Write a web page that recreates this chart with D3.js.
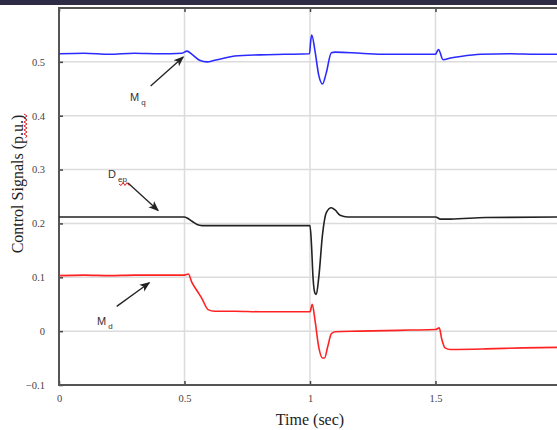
<!DOCTYPE html>
<html>
<head>
<meta charset="utf-8">
<script src="https://cdn.jsdelivr.net/npm/d3@7"></script>
<style>
  html, body { margin: 0; padding: 0; background: #fff; }
  svg { display: block; }
  .tick text { font-family: "Liberation Serif", "DejaVu Serif", serif; font-size: 10.5px; fill: #4a4040; }
</style>
</head>
<body>
<div id="chart"></div>
<script>
// Signals (time in s, value in p.u.)
const mqTime = [0, 0.1, 0.2, 0.3, 0.4, 0.49, 0.51, 0.53, 0.56, 0.59, 0.62, 0.66, 0.7, 0.8, 0.9, 0.998, 1.003, 1.007, 1.02, 1.035, 1.05, 1.065, 1.085, 1.1, 1.2, 1.3, 1.4, 1.5, 1.505, 1.512, 1.53, 1.56, 1.6, 1.68, 1.8, 1.9, 2.0];
const mqVals = [0.515, 0.516, 0.514, 0.516, 0.515, 0.516, 0.52, 0.514, 0.503, 0.500, 0.503, 0.507, 0.511, 0.513, 0.514, 0.515, 0.540, 0.550, 0.52, 0.475, 0.459, 0.48, 0.517, 0.518, 0.516, 0.514, 0.514, 0.514, 0.518, 0.523, 0.504, 0.507, 0.510, 0.514, 0.515, 0.514, 0.514];

const depTime = [0, 0.5, 0.51, 0.53, 0.55, 0.57, 0.6, 0.8, 0.99, 1.0, 1.006, 1.012, 1.02, 1.025, 1.035, 1.05, 1.065, 1.085, 1.1, 1.12, 1.15, 1.3, 1.5, 1.52, 1.56, 1.7, 2.0];
const depVals = [0.212, 0.212, 0.210, 0.204, 0.198, 0.196, 0.196, 0.196, 0.196, 0.196, 0.16, 0.10, 0.07, 0.068, 0.10, 0.18, 0.22, 0.229, 0.225, 0.215, 0.212, 0.212, 0.212, 0.208, 0.208, 0.211, 0.212];

const mdTime = [0, 0.1, 0.2, 0.3, 0.4, 0.5, 0.515, 0.53, 0.55, 0.57, 0.594, 0.62, 0.7, 0.8, 0.9, 1.0, 1.009, 1.02, 1.035, 1.05, 1.058, 1.07, 1.085, 1.1, 1.2, 1.3, 1.4, 1.5, 1.515, 1.525, 1.538, 1.56, 1.7, 1.85, 2.0];
const mdVals = [0.103, 0.104, 0.103, 0.104, 0.104, 0.104, 0.106, 0.09, 0.075, 0.06, 0.040, 0.037, 0.037, 0.036, 0.036, 0.036, 0.05, 0.02, -0.03, -0.05, -0.05, -0.03, -0.005, -0.001, 0.0, 0.001, 0.002, 0.003, 0.006, -0.015, -0.031, -0.034, -0.033, -0.031, -0.030];

const xTicks = [0, 0.5, 1, 1.5, 2];
const yTicks = [-0.1, 0, 0.1, 0.2, 0.3, 0.4, 0.5];

const width = 557, height = 430;
const x = d3.scaleLinear().domain([0, 2]).range([59, 561]);
const y = d3.scaleLinear().domain([-0.1, 0.6]).range([385, 8]);

const svg = d3.select('#chart').append('svg')
    .attr('width', width)
    .attr('height', height);

// dark strip at the very top
svg.append('rect')
    .attr('x', 0).attr('y', 0)
    .attr('width', width).attr('height', 5)
    .attr('fill', '#2d2b45');

// grid
svg.append('g').selectAll('line')
    .data(yTicks.filter(d => d > -0.1))
    .enter().append('line')
    .attr('x1', x(0)).attr('x2', x(2))
    .attr('y1', d => y(d)).attr('y2', d => y(d))
    .attr('stroke', '#dcdcdc').attr('stroke-width', 1.5);
svg.append('g').selectAll('line')
    .data(xTicks.filter(d => d > 0))
    .enter().append('line')
    .attr('x1', d => x(d)).attr('x2', d => x(d))
    .attr('y1', y(0.6)).attr('y2', y(-0.1))
    .attr('stroke', '#dcdcdc').attr('stroke-width', 1.5);

// axes
const yAxis = svg.append('g')
    .attr('transform', `translate(${x(0)},0)`)
    .call(d3.axisLeft(y).tickValues(yTicks).tickSize(-4).tickPadding(14)
      .tickFormat(d => d3.format('')(+d.toFixed(1))));
const xAxis = svg.append('g')
    .attr('transform', `translate(0,${y(-0.1)})`)
    .call(d3.axisBottom(x).tickValues(xTicks).tickSize(-4).tickPadding(10)
      .tickFormat(d => String(d)));
svg.append('g')
    .attr('transform', `translate(0,${y(0.6)})`)
    .call(d3.axisTop(x).tickValues(xTicks).tickSize(-4).tickFormat(''));
[yAxis, xAxis].forEach(g => {
  g.select('.domain').remove();
  g.selectAll('.tick line').attr('stroke', '#444').attr('stroke-width', 1.5);
});
svg.selectAll('.domain').remove();
svg.selectAll('.tick line').attr('stroke', '#444').attr('stroke-width', 1.5);

// frame
svg.append('path')
    .attr('d', `M${x(2)},${y(0.6)}H${x(0)}V${y(-0.1)}H${x(2)}`)
    .attr('fill', 'none').attr('stroke', '#555').attr('stroke-width', 2);

// series
const line = d3.line()
    .x(d => x(d[0]))
    .y(d => y(d[1]))
    .curve(d3.curveMonotoneX);

const series = [
  {t: mqTime, v: mqVals, color: '#2b2bff'},
  {t: depTime, v: depVals, color: '#222222'},
  {t: mdTime, v: mdVals, color: '#ff2222'}
];
svg.append('g').selectAll('path')
    .data(series)
    .enter().append('path')
    .attr('d', s => line(s.t.map((t, i) => [t, s.v[i]])))
    .attr('fill', 'none')
    .attr('stroke', s => s.color)
    .attr('stroke-width', 1.6);

// annotations
const defs = svg.append('defs');
defs.append('marker')
    .attr('id', 'arrow')
    .attr('viewBox', '0 0 10 10')
    .attr('refX', 9).attr('refY', 5)
    .attr('markerWidth', 8).attr('markerHeight', 8)
    .attr('orient', 'auto')
    .append('path')
    .attr('d', 'M0,1L10,5L0,9L2.5,5Z')
    .attr('fill', '#222');

const notes = [
  {name: 'M', sub: 'q', lx: 130, ly: 101, from: [0.365, 0.455], to: [0.495, 0.509]},
  {name: 'D', sub: 'ep', lx: 108, ly: 178, from: [0.275, 0.275], to: [0.395, 0.224]},
  {name: 'M', sub: 'd', lx: 97, ly: 325, from: [0.23, 0.046], to: [0.36, 0.09]}
];
notes.forEach(n => {
  svg.append('line')
      .attr('x1', x(n.from[0])).attr('y1', y(n.from[1]))
      .attr('x2', x(n.to[0])).attr('y2', y(n.to[1]))
      .attr('stroke', '#222').attr('stroke-width', 1.3)
      .attr('marker-end', 'url(#arrow)');
  const t = svg.append('text')
      .attr('x', n.lx).attr('y', n.ly)
      .attr('font-family', 'Liberation Sans, Arial, sans-serif')
      .attr('font-size', 11)
      .attr('fill', '#3a3030')
      .text(n.name);
  t.append('tspan')
      .attr('dx', 2).attr('dy', 4)
      .attr('font-size', 8)
      .text(n.sub);
});

// red spell-check squiggles
const squiggle = (x0, y0, len, vertical) => {
  let d = `M${x0},${y0}`;
  for (let i = 1; i <= len / 2; i++) {
    const o = (i % 2 ? 1.5 : -1.5);
    d += vertical ? `L${x0 + o},${y0 - i * 2}` : `L${x0 + i * 2},${y0 + o}`;
  }
  return d;
};
svg.append('path').attr('d', squiggle(119, 184, 10, false))
    .attr('fill', 'none').attr('stroke', '#e02020').attr('stroke-width', 1);
svg.append('path').attr('d', squiggle(25.5, 138, 24, true))
    .attr('fill', 'none').attr('stroke', '#e02020').attr('stroke-width', 1);

// axis titles
svg.append('text')
    .attr('transform', `translate(23,${184}) rotate(-90)`)
    .attr('text-anchor', 'middle')
    .attr('font-family', 'Liberation Serif, Times New Roman, serif')
    .attr('font-size', 16)
    .attr('fill', '#222')
    .text('Control Signals (p.u.)');
svg.append('text')
    .attr('x', 310).attr('y', 425)
    .attr('text-anchor', 'middle')
    .attr('font-family', 'Liberation Serif, Times New Roman, serif')
    .attr('font-size', 16)
    .attr('fill', '#222')
    .text('Time (sec)');
</script>
</body>
</html>
